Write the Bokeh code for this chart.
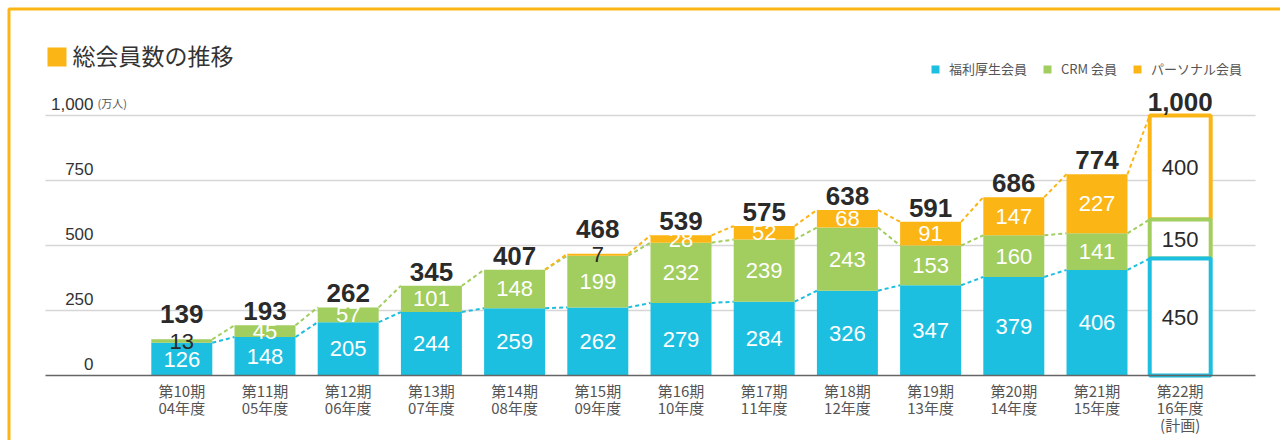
import numpy as np
from bokeh.plotting import figure
from bokeh.models import Range1d, ColumnDataSource, Legend, LegendItem
from bokeh.core.properties import value
from bokeh.embed import file_html
from bokeh.resources import INLINE

# ---------------- data ----------------
periods = ["第10期", "第11期", "第12期", "第13期", "第14期", "第15期", "第16期",
           "第17期", "第18期", "第19期", "第20期", "第21期", "第22期"]
years = ["04年度", "05年度", "06年度", "07年度", "08年度", "09年度", "10年度",
         "11年度", "12年度", "13年度", "14年度", "15年度", "16年度"]
notes = ["", "", "", "", "", "", "", "", "", "", "", "", "(計画)"]
welfare = [126, 148, 205, 244, 259, 262, 279, 284, 326, 347, 379, 406, 450]
crm = [13, 45, 57, 101, 148, 199, 232, 239, 243, 153, 160, 141, 150]
personal = [0, 0, 0, 0, 0, 7, 28, 52, 68, 91, 147, 227, 400]
totals = [139, 193, 262, 345, 407, 468, 539, 575, 638, 591, 686, 774, 1000]
plan_index = 12
series_names = ["福利厚生会員", "CRM 会員", "パーソナル会員"]
y_ticks = [0, 250, 500, 750, 1000]
y_tick_labels = ["0", "250", "500", "750", "1,000"]
y_unit = "(万人)"
title_text = "総会員数の推移"

# ---------------- style ----------------
BLUE = "#1dbfe0"
GREEN = "#a2cd5f"
ORANGE = "#fbb616"
DARK = "#2a2a2a"
GRAY = "#555555"
JP_NAME = "Noto Sans CJK JP"
JP = value(JP_NAME)
NUM = value("Liberation Sans")

W, H = 1280, 440
X0PX, XSTEP = 181.3, 83.2     # pixel centre of first bar, pixel step
Y0PX, YSCALE = 375.0, 0.26    # pixel of value 0, pixels per unit
BAR_W = 0.733


def px_x(px):
    return (px - X0PX) / XSTEP


def px_y(py):
    return (Y0PX - py) / YSCALE


p = figure(width=W, height=H, output_backend="svg", toolbar_location=None,
           x_range=Range1d(px_x(0), px_x(W)), y_range=Range1d(px_y(H), px_y(0)),
           x_axis_location=None, y_axis_location=None, min_border=0,
           min_border_left=0, min_border_right=0, min_border_top=0, min_border_bottom=0)
p.outline_line_color = None
p.grid.visible = False
p.background_fill_color = "white"
p.border_fill_color = "white"

n = len(periods)
xs = np.arange(n)
wel = np.array(welfare, dtype=float)
cr = np.array(crm, dtype=float)
per = np.array(personal, dtype=float)
c1 = wel
c2 = wel + cr
c3 = wel + cr + per

# outer frame border
p.quad(left=px_x(8.5), right=px_x(1500), top=px_y(8.5), bottom=px_y(800),
       fill_color=None, line_color=ORANGE, line_width=3)

# gridlines
grid_vals = [t for t in y_ticks if t != 0]
p.segment(x0=[px_x(45)] * len(grid_vals), x1=[px_x(1255)] * len(grid_vals),
          y0=grid_vals, y1=grid_vals, line_color="#d6d6d6", line_width=1.5)

# actual stacked bars
act = [i for i in range(n) if i != plan_index]
src = ColumnDataSource(dict(
    x=xs[act], b0=np.zeros(len(act)), t1=c1[act], t2=c2[act], t3=c3[act]))
r_blue = p.vbar(x="x", bottom="b0", top="t1", width=BAR_W, source=src,
                fill_color=BLUE, line_color=None)
r_green = p.vbar(x="x", bottom="t1", top="t2", width=BAR_W, source=src,
                 fill_color=GREEN, line_color=None)
r_orange = p.vbar(x="x", bottom="t2", top="t3", width=BAR_W, source=src,
                  fill_color=ORANGE, line_color=None)

# planned bar (outlined)
k = plan_index
p.vbar(x=[xs[k]], bottom=[c2[k]], top=[c3[k]], width=BAR_W, fill_color="white",
       line_color=ORANGE, line_width=4)
p.vbar(x=[xs[k]], bottom=[c1[k]], top=[c2[k]], width=BAR_W, fill_color="white",
       line_color=GREEN, line_width=4)
p.vbar(x=[xs[k]], bottom=[0], top=[c1[k]], width=BAR_W, fill_color="white",
       line_color=BLUE, line_width=4)

# baseline
p.segment(x0=[px_x(45)], x1=[px_x(1255)], y0=[0], y1=[0],
          line_color="#666666", line_width=1.5)

# dashed connectors
half = BAR_W / 2
for cum, seg, col in [(c1, wel, BLUE), (c2, cr, GREEN), (c3, per, ORANGE)]:
    idx = [i for i in range(n - 1) if seg[i + 1] > 0]
    p.segment(x0=[xs[i] + half for i in idx], y0=[cum[i] for i in idx],
              x1=[xs[i + 1] - half for i in idx], y1=[cum[i + 1] for i in idx],
              line_color=col, line_width=2, line_dash="4 3")

# segment value labels
lx, ly, lt, lc = [], [], [], []
for i in range(n):
    for bottom, v in [(0, wel[i]), (c1[i], cr[i]), (c2[i], per[i])]:
        if v <= 0:
            continue
        lx.append(xs[i])
        ly.append(bottom + v / 2)
        lt.append(str(int(v)))
        lc.append(DARK if (i == plan_index or v < 15) else "white")
p.text(x="x", y="y", text="t", text_color="c",
       source=ColumnDataSource(dict(x=lx, y=ly, t=lt, c=lc)),
       text_align="center", text_baseline="middle", text_font=NUM,
       text_font_size="22px")

# total labels
top_seg = []
for i in range(n):
    vals = [v for v in (wel[i], cr[i], per[i]) if v > 0]
    top_seg.append(vals[-1])
offs = [-25 if v < 15 else -14 for v in top_seg]
p.text(x="x", y="y", text="t", y_offset="o",
       source=ColumnDataSource(dict(x=xs, y=totals, t=[f"{t:,}" for t in totals], o=offs)),
       text_align="center", text_baseline="alphabetic", text_font=NUM,
       text_font_size="26px", text_font_style="bold", text_color=DARK)

# y tick labels
p.text(x=[px_x(93)] * len(y_ticks), y=y_ticks, text=y_tick_labels,
       text_align="right", text_baseline="alphabetic", y_offset=-12,
       text_font=NUM, text_font_size="17px", text_color="#333333")
p.text(x=[px_x(97)], y=[y_ticks[-1]], text=[y_unit], text_align="left",
       text_baseline="alphabetic", y_offset=-13, text_font=JP,
       text_font_size="11px", text_color=GRAY)

# x category labels
xl = ["\n".join([s for s in (a, b, c) if s]) for a, b, c in zip(periods, years, notes)]
p.text(x=xs, y=[0] * n, text=xl, text_align="center", text_baseline="top",
       y_offset=4, text_font=JP, text_font_size="15px", text_line_height=0.82,
       text_color=GRAY)

# title
p.quad(left=[px_x(47)], right=[px_x(66)], top=[px_y(47)], bottom=[px_y(66)],
       fill_color=ORANGE, line_color=None)
p.text(x=[px_x(72)], y=[px_y(54)], text=[title_text], text_align="left",
       text_baseline="middle", text_font=JP, text_font_size="23px",
       text_color="#333333")

# legend
legend = Legend(items=[LegendItem(label=series_names[0], renderers=[r_blue]),
                       LegendItem(label=series_names[1], renderers=[r_green]),
                       LegendItem(label=series_names[2], renderers=[r_orange])],
                orientation="horizontal", location=(930, H - 78),
                glyph_width=10, glyph_height=10, label_height=14,
                label_standoff=9, spacing=15, padding=0, margin=0,
                label_text_font=JP_NAME, label_text_font_size="13px",
                label_text_color=GRAY, border_line_color=None,
                background_fill_alpha=0)
p.add_layout(legend, "center")

open("out.html", "w").write(file_html(p, INLINE))
